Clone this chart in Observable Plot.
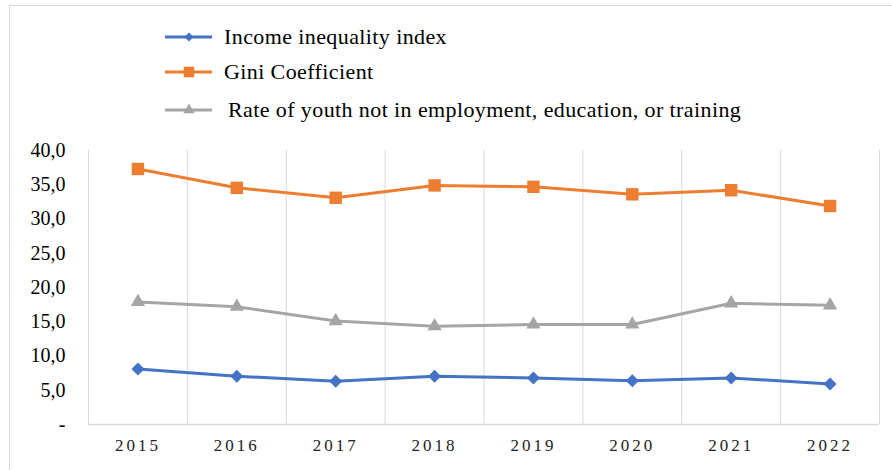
<!DOCTYPE html>
<html>
<head>
<meta charset="utf-8">
<script src="https://cdn.jsdelivr.net/npm/d3@7"></script>
<script src="https://cdn.jsdelivr.net/npm/@observablehq/plot@0.6"></script>
<style>
  html, body { margin: 0; padding: 0; background: #fff; }
  #wrap { position: relative; width: 892px; height: 470px; overflow: hidden; font-family: "Liberation Serif", "Times New Roman", serif; }
  #frame { position: absolute; left: 9px; top: 5px; right: -2px; bottom: -2px; border-left: 1px solid #d9d9d9; border-top: 1px solid #d9d9d9; }
  #chart { position: absolute; left: 0; top: 0; }
  #chart svg text { font-family: "Liberation Serif", "Times New Roman", serif; }
  .legend-row { position: absolute; height: 26px; display: flex; align-items: center; font-size: 22px; letter-spacing: 0.4px; color: #000; white-space: nowrap; }
  .legend-row svg { display: block; }
  .xlab text { letter-spacing: 3px; }
</style>
</head>
<body>
<div id="wrap">
  <div id="frame"></div>
  <div id="chart"></div>
  <div id="legend"></div>
</div>
<script>
// ---- Data ----
const years = [2015, 2016, 2017, 2018, 2019, 2020, 2021, 2022];
const seriesNames = ["Income inequality index", "Gini Coefficient", "Rate of youth not in employment, education, or training"];
const incomeInequality = [8.1, 7.05, 6.3, 7.05, 6.8, 6.4, 6.8, 5.9];
const giniCoefficient = [37.3, 34.55, 33.1, 34.9, 34.7, 33.6, 34.2, 31.9];
const youthNEET = [17.9, 17.2, 15.1, 14.35, 14.6, 14.6, 17.7, 17.4];
const yTicks = [0, 5, 10, 15, 20, 25, 30, 35, 40];
const seriesColors = ["#4472C4", "#ED7D31", "#A5A5A5"];

const seriesValues = [incomeInequality, giniCoefficient, youthNEET];
const rows = [];
seriesNames.forEach((name, i) => {
  years.forEach((yr, j) => rows.push({series: name, year: yr, value: seriesValues[i][j]}));
});
const bounds = [...years.map(y => y - 0.5), years[years.length - 1] + 0.5];

const chart = Plot.plot({
  width: 892,
  height: 470,
  marginTop: 150,
  marginBottom: 46,
  marginLeft: 88,
  marginRight: 13,
  style: {fontFamily: "'Liberation Serif', 'Times New Roman', serif", background: "transparent", color: "#000"},
  x: {type: "linear", domain: [bounds[0], bounds[bounds.length - 1]]},
  y: {domain: [0, 40]},
  color: {domain: seriesNames, range: seriesColors},
  marks: [
    Plot.ruleX(bounds, {y1: 0, y2: 40, stroke: "#d9d9d9", strokeWidth: 1}),
    Plot.ruleY([0], {stroke: "#d9d9d9", strokeWidth: 1.5}),
    Plot.axisY(yTicks, {
      tickSize: 0, tickPadding: 23, fontSize: 20, fill: "#000",
      tickFormat: d => d === 0 ? "-" : d.toFixed(1).replace(".", ","),
      label: null
    }),
    Plot.axisX(years, {
      tickSize: 0, tickPadding: 14, fontSize: 17, fill: "#222",
      tickFormat: d => String(d), label: null, className: "xlab"
    }),
    Plot.line(rows, {x: "year", y: "value", stroke: "series", strokeWidth: 3, curve: "linear"}),
    Plot.dot(rows.filter(d => d.series === seriesNames[1]), {x: "year", y: "value", symbol: "square", r: 7, fill: seriesColors[1], stroke: "none"}),
    Plot.dot(rows.filter(d => d.series === seriesNames[2]), {x: "year", y: "value", symbol: "triangle", r: 5.3, fill: seriesColors[2], stroke: "none"}),
    Plot.dot(rows.filter(d => d.series === seriesNames[0]), {x: "year", y: "value", symbol: "square", rotate: 45, r: 5.2, fill: seriesColors[0], stroke: "none"})
  ]
});
document.getElementById("chart").appendChild(chart);

// ---- Legend ----
const legendTops = [37, 72, 110];
const legendTextX = [224, 224, 228];
const legend = document.getElementById("legend");
seriesNames.forEach((name, i) => {
  const row = document.createElement("div");
  row.className = "legend-row";
  row.style.left = "163px";
  row.style.top = (legendTops[i] - 13) + "px";
  const sym = d3.symbol(i === 2 ? d3.symbolTriangle : d3.symbolSquare,
    i === 0 ? 40 : i === 1 ? 110 : 55)();
  const rot = i === 0 ? 45 : 0;
  row.innerHTML =
    `<svg width="${legendTextX[i] - 163}" height="26">
       <line x1="2" x2="49" y1="13" y2="13" stroke="${seriesColors[i]}" stroke-width="3"/>
       <path d="${sym}" transform="translate(26,13) rotate(${rot})" fill="${seriesColors[i]}"/>
     </svg><span>${name}</span>`;
  legend.appendChild(row);
});
</script>
</body>
</html>
